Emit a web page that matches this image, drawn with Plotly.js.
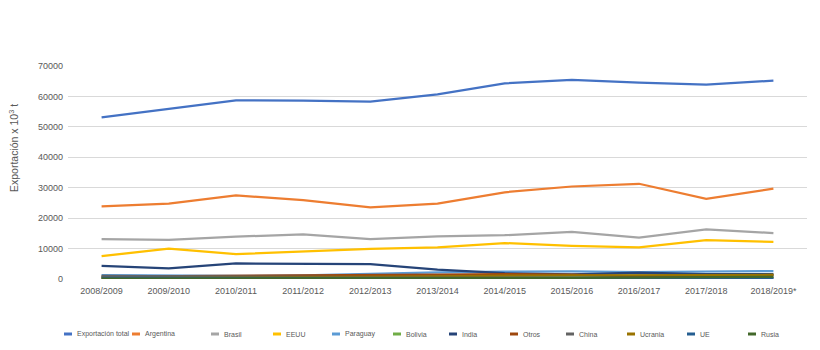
<!DOCTYPE html>
<html><head><meta charset="utf-8">
<script src="https://cdn.plot.ly/plotly-3.0.1.min.js"></script>
<style>html,body{margin:0;padding:0;background:#fff}#chart{width:820px;height:350px}</style>
</head><body><div id="chart"></div>
<script>
const categories = ["2008/2009","2009/2010","2010/2011","2011/2012","2012/2013","2013/2014","2014/2015","2015/2016","2016/2017","2017/2018","2018/2019*"];
const seriesNames = ["Exportación total","Argentina","Brasil","EEUU","Paraguay","Bolivia","India","Otros","China","Ucrania","UE","Rusia"];
const total     = [53100,55800,58700,58600,58300,60700,64300,65400,64500,63900,65200];
const argentina = [23900,24800,27500,25900,23500,24800,28500,30400,31300,26300,29700];
const brasil    = [13100,12900,13900,14700,13100,14000,14400,15500,13600,16300,15100];
const eeuu      = [7500,10000,8200,9000,9900,10400,11800,10900,10400,12800,12200];
const paraguay  = [1300,1200,1000,1200,1800,2200,2400,2500,2300,2500,2600];
const bolivia   = [600,700,700,700,900,1000,1100,1200,1000,1200,1200];
const india     = [4300,3500,5100,4900,4900,3100,1900,1500,2100,1600,1600];
const otros     = [800,900,900,1000,1100,1400,1600,1400,900,1200,1300];
const china     = [1000,900,800,700,600,500,500,400,300,400,300];
const ucrania   = [200,300,400,500,700,900,1100,1200,1200,1300,1400];
const ue        = [400,400,500,400,400,400,400,500,500,400,400];
const rusia     = [100,100,100,100,200,300,300,400,500,600,700];
const tickVals  = [0,10000,20000,30000,40000,50000,60000,70000];

const values = [total,argentina,brasil,eeuu,paraguay,bolivia,india,otros,china,ucrania,ue,rusia];
const colors = ["#4472C4","#ED7D31","#A5A5A5","#FFC000","#5B9BD5","#70AD47","#264478","#9E480E","#636363","#997300","#255E91","#43682B"];

// layout geometry (pixels)
const W = 820, H = 350, ML = 68, MR = 13, MT = 66, MB = 71;
const PW = W - ML - MR, PH = H - MT - MB;
const legendIconX = [64,132,211,273,332,393,449,510,566,627,687,748];
const legendY = 334;
const px2x = p => (p - ML) / PW;
const py2y = p => (H - MB - p) / PH;

const traces = seriesNames.map((n,i)=>({
  type:"scatter", mode:"lines", name:n, x:categories, y:values[i],
  line:{color:colors[i], width:2.25}, hoverinfo:"skip", showlegend:false
}));

const shapes = seriesNames.map((n,i)=>({
  type:"line", xref:"paper", yref:"paper",
  x0:px2x(legendIconX[i]), x1:px2x(legendIconX[i]+8),
  y0:py2y(legendY), y1:py2y(legendY),
  line:{color:colors[i], width:3}
}));
const annotations = seriesNames.map((n,i)=>({
  xref:"paper", yref:"paper", x:px2x(legendIconX[i]+10.5), y:py2y(legendY),
  xanchor:"left", yanchor:"middle", text:n, showarrow:false,
  font:{size:7, color:"#595959", family:"Liberation Sans, Arial, sans-serif"}
}));
annotations.push({
  xref:"paper", yref:"paper", x:px2x(13), y:py2y(148), xanchor:"center", yanchor:"middle",
  text:"Exportación x 10<sup>3</sup> t", textangle:-90, showarrow:false,
  font:{size:10.5, color:"#595959", family:"Liberation Sans, Arial, sans-serif"}
});

const layout = {
  width:W, height:H,
  margin:{l:ML,r:MR,t:MT,b:MB},
  paper_bgcolor:"#fff", plot_bgcolor:"#fff",
  font:{family:"Liberation Sans, Arial, sans-serif", color:"#595959", size:9},
  showlegend:false,
  xaxis:{type:"category", range:[-0.5,10.5], showgrid:false, zeroline:false, showline:false,
    tickfont:{size:9, color:"#595959"}, ticks:"", ticklabelstandoff:5, fixedrange:true},
  yaxis:{range:[0,70000], tickvals:tickVals, ticktext:tickVals.map(String),
    showgrid:true, gridcolor:"#D9D9D9", gridwidth:1, zeroline:false, showline:false,
    tickfont:{size:9, color:"#595959"}, ticks:"", ticklabelstandoff:4, fixedrange:true},
  shapes:shapes, annotations:annotations
};
Plotly.newPlot("chart", traces, layout, {displayModeBar:false, staticPlot:true});
</script></body></html>
